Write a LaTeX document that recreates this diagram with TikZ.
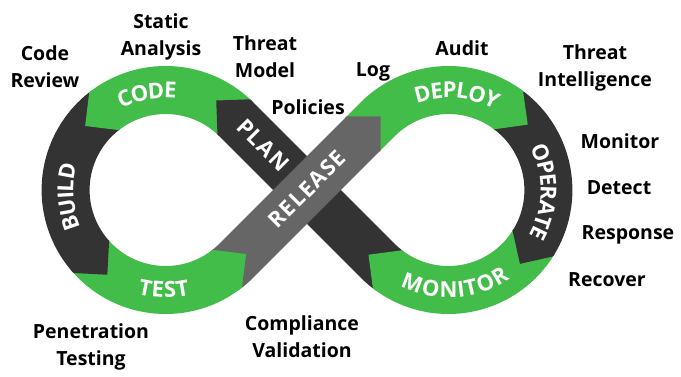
\documentclass[tikz,border=0pt]{standalone}
\usepackage{fontspec}
\setmainfont{Open Sans}
\newfontfamily\bandfam[LetterSpace=6]{Open Sans}
\usetikzlibrary{calc,decorations.text}
\definecolor{grn}{HTML}{42BD4A}
\definecolor{drk}{HTML}{333333}
\definecolor{gry}{HTML}{666666}
\newcommand{\bandfont}{\bandfam\bfseries\fontsize{22}{22}\selectfont}
\newcommand{\tipccw}[3]{\fill[#3] ($(#1)+(#2-1.5:124)$) -- ($(#1)+(#2:124)$) -- ($(#1)+(#2:100)+(#2+90:24)$) -- ($(#1)+(#2:76)$) -- ($(#1)+(#2-1.5:76)$) -- cycle;}
\newcommand{\tipcw}[3]{\fill[#3] ($(#1)+(#2+1.5:124)$) -- ($(#1)+(#2:124)$) -- ($(#1)+(#2:100)+(#2-90:24)$) -- ($(#1)+(#2:76)$) -- ($(#1)+(#2+1.5:76)$) -- cycle;}
\begin{document}
\begin{tikzpicture}[x=1pt,y=1pt,
  band/.style={line width=48pt},
  lbl/.style={font=\bfseries\fontsize{19.5}{27}\selectfont, align=center, text=black, inner sep=0pt},
  bandtxt/.style={font=\bandfont, text=white, inner sep=0pt},
  curvtxt/.style={decorate, decoration={text along path, text={|\bandfont\color{white}|#1}, text align=center, raise=-7.8pt}}]
\useasboundingbox (0,0) rectangle (681,376);
\coordinate (C1) at (165.6,186);
\coordinate (C2) at (448.4,186);
\coordinate (RD) at ($(C2)+(135:100)+(225:20)$);
% segments
\draw[band, drk] ($(C2)+(232.5:100)$) arc[start angle=232.5,end angle=225,radius=100] -- ($(C1)+(45:100)$) arc[start angle=45,end angle=47,radius=100];
\draw[band, grn] ($(C1)+(47:100)$) arc[start angle=47,end angle=128,radius=100];
\draw[band, drk] ($(C1)+(128:100)$) arc[start angle=128,end angle=222,radius=100];
\draw[band, grn] ($(C1)+(222:100)$) arc[start angle=222,end angle=308,radius=100];
\draw[band, gry] ($(C1)+(308:100)$) arc[start angle=308,end angle=315,radius=100] -- (RD);
\draw[band, grn] (RD) -- ($(C2)+(135:100)$) arc[start angle=135,end angle=53,radius=100];
\draw[band, drk] ($(C2)+(53:100)$) arc[start angle=53,end angle=-32.4,radius=100];
\draw[band, grn] ($(C2)+(-32.4:100)$) arc[start angle=-32.4,end angle=-127.5,radius=100];
% tips
\tipcw{C2}{-127.5}{grn}
\tipccw{C1}{47}{drk}
\tipccw{C1}{128}{grn}
\tipccw{C1}{222}{drk}
\tipccw{C1}{308}{grn}
\fill[gry] ($(RD)+(135:24)+(225:2)$) -- ($(RD)+(135:24)$) -- ($(RD)+(45:24)$) -- ($(RD)+(-45:24)$) -- ($(RD)+(-45:24)+(225:2)$) -- cycle;
\tipcw{C2}{53}{grn}
\tipcw{C2}{-32.4}{drk}
% band labels
\path[curvtxt=CODE] ($(C1)+(146:100)$) arc[start angle=146,end angle=56,radius=100];
\path[curvtxt=BUILD] ($(C1)+(229:100)$) arc[start angle=229,end angle=139,radius=100];
\path[curvtxt=TEST] ($(C1)+(224:100)$) arc[start angle=224,end angle=314,radius=100];
\path[curvtxt=DEPLOY] ($(C2)+(130:100)$) arc[start angle=130,end angle=40,radius=100];
\path[curvtxt=OPERATE] ($(C2)+(44:100)$) arc[start angle=44,end angle=-46,radius=100];
\path[curvtxt=MONITOR] ($(C2)+(229:100)$) arc[start angle=229,end angle=319,radius=100];
\node[bandtxt, rotate=-45] (plan) at (263,231) {PLAN};
\node[bandtxt, rotate=45] (release) at (307,187) {RELEASE};
% outer labels
\node[lbl] (coderev) at (45,309.5) {Code\\Review};
\node[lbl] (static) at (161,339) {Static\\Analysis};
\node[lbl] (threatm) at (265,319.5) {Threat\\Model};
\node[lbl] (policies) at (308,269) {Policies};
\node[lbl] (log) at (373,304) {Log};
\node[lbl] (audit) at (462,327.5) {Audit};
\node[lbl] (threati) at (595,308.5) {Threat\\Intelligence};
\node[lbl] (monitor) at (620,234.5) {Monitor};
\node[lbl] (detect) at (619,188) {Detect};
\node[lbl] (response) at (628,141) {Response};
\node[lbl] (recover) at (607,96.5) {Recover};
\node[lbl] (pentest) at (91,29.5) {Penetration\\Testing};
\node[lbl] (compliance) at (302,39.5) {Compliance\\Validation};
\end{tikzpicture}
\end{document}
